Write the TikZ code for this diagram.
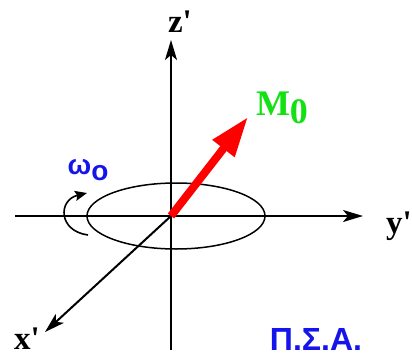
\documentclass[tikz,border=0pt]{standalone}
\usepackage{fontspec}
\setmainfont{Liberation Serif}
\newfontfamily\grk{Liberation Sans}
\usetikzlibrary{arrows.meta}
\definecolor{mgreen}{RGB}{20,225,20}
\definecolor{mblue}{RGB}{20,20,235}
\tikzset{
  axis/.style={line width=2pt,-{Stealth[length=20pt,width=12pt,inset=5pt]}},
  lbl/.style={font=\fontsize{33}{33}\selectfont\bfseries,inner sep=0pt},
  grklbl/.style={font=\fontsize{32}{32}\selectfont\grk\bfseries,text=mblue,inner sep=0pt},
  orbit/.style={line width=1.5pt},
  magvec/.style={draw=red,line width=8pt,-{Triangle[length=40pt,width=26pt]},red},
  rot/.style={line width=1.6pt,-{Stealth[length=12pt,width=10pt,inset=2pt]}}
}
\begin{document}
\begin{tikzpicture}[x=1pt,y=-1pt]
\useasboundingbox (0,0) rectangle (412,356);
\coordinate (O) at (171,216);
\coordinate (ztop) at (171,40);
\coordinate (zbot) at (171,350);
\coordinate (yleft) at (15,216);
\coordinate (yright) at (363,216);
\coordinate (xend) at (45,332);
\coordinate (mend) at (248,117);
\coordinate (rs) at (88,235);
\coordinate (re) at (87,193);
% orbit ellipse
\draw[orbit] (176,216) ellipse [x radius=89, y radius=33];
% axes
\draw[axis] (zbot) -- (ztop);
\draw[axis] (yleft) -- (yright);
\draw[axis] (O) -- (xend);
% magnetization
\draw[magvec] (O) -- (mend);
% rotation arrow
\draw[rot] (rs) .. controls (58,231) and (58,200) .. (re);
% labels
\node[lbl] (zl) at (180,22) {z\textquotesingle};
\node[lbl] (yl) at (399,226) {y\textquotesingle};
\node[lbl] (xl) at (27,339) {x\textquotesingle};
\node[lbl,text=mgreen,font=\fontsize{36}{36}\selectfont\bfseries] (ml) at (282,108) {M\raisebox{-8pt}{0}};
\node[grklbl,font=\fontsize{28}{28}\selectfont\grk\bfseries] (wl) at (88,170) {ω\raisebox{-6pt}{o}};
\node[grklbl] (psa) at (316,339) {Π.Σ.Α.};
\end{tikzpicture}
\end{document}
